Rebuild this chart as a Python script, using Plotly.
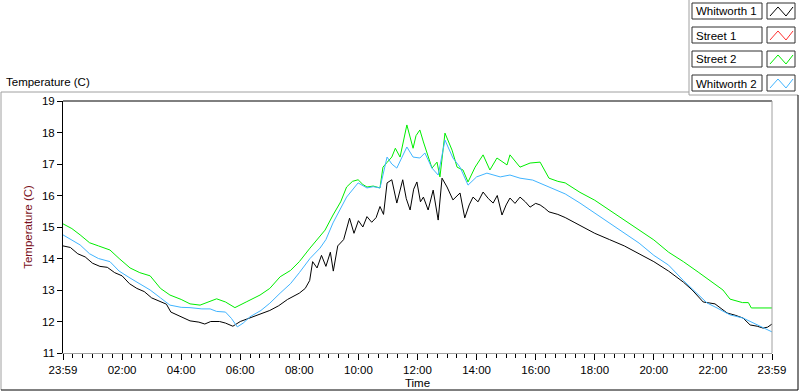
import plotly.graph_objects as go

# ---------------- data (hours after 23:59, temperature in C) ----------------
series_names = ["Whitworth 1", "Street 1", "Street 2", "Whitworth 2"]
series_colors = ["#000000", "#ff3030", "#00ee00", "#40b4ff"]

w1_hours = [0.0, 0.25, 0.5, 0.75, 1.0, 1.25, 1.5, 1.75, 2.0, 2.25, 2.5, 2.75, 3.0, 3.25, 3.5, 3.65,
            4.0, 4.3, 4.6, 4.8, 5.0, 5.3, 5.5, 5.75, 6.0, 6.3, 6.6, 7.0, 7.3, 7.6, 8.0, 8.2, 8.35,
            8.45, 8.6, 8.75, 8.9, 9.05, 9.15, 9.3, 9.5, 9.7, 9.85, 10.0, 10.15, 10.29, 10.45, 10.6,
            10.73, 10.85, 10.97, 11.13, 11.3, 11.5, 11.62, 11.75, 11.87, 11.98, 12.1, 12.2, 12.36,
            12.53, 12.7, 12.83, 13.0, 13.2, 13.44, 13.6, 13.75, 13.88, 14.05, 14.22, 14.4, 14.56,
            14.7, 14.86, 15.0, 15.13, 15.3, 15.47, 15.65, 15.81, 16.0, 16.15, 16.3, 16.45, 16.75,
            17.0, 17.3, 17.5, 17.75, 18.0, 18.5, 19.0, 19.5, 20.0, 20.5, 21.0, 21.3, 21.67, 22.07,
            22.48, 22.75, 23.02, 23.26, 23.5, 23.7, 23.85, 24.0]
w1_temps = [14.40, 14.35, 14.15, 14.05, 13.85, 13.75, 13.72, 13.55, 13.45, 13.2, 13.05, 12.95, 12.75,
            12.65, 12.55, 12.3, 12.15, 12.02, 11.98, 11.92, 12.0, 12.0, 11.95, 11.85, 12.0, 12.1, 12.2,
            12.35, 12.5, 12.7, 12.9, 13.05, 13.3, 13.9, 13.7, 14.1, 13.75, 14.2, 13.6, 14.4, 14.6,
            15.28, 14.8, 15.2, 15.0, 15.33, 15.15, 15.3, 15.65, 15.4, 16.4, 16.5, 15.76, 16.5, 15.9,
            15.54, 16.2, 16.43, 15.8, 15.95, 15.54, 16.17, 15.22, 16.55, 16.27, 15.86, 16.08, 15.29,
            15.7, 15.95, 15.8, 16.11, 15.9, 15.76, 16.0, 15.38, 15.7, 15.92, 15.75, 15.95, 15.8, 15.63,
            15.75, 15.7, 15.6, 15.48, 15.4, 15.3, 15.15, 15.05, 14.9, 14.8, 14.6, 14.4, 14.15, 13.9,
            13.6, 13.25, 13.0, 12.62, 12.56, 12.27, 12.2, 12.11, 11.89, 11.85, 11.79, 11.82, 11.92]

s1_hours = []
s1_temps = []

s2_hours = [0.0, 0.3, 0.58, 0.9, 1.2, 1.59, 1.9, 2.27, 2.6, 2.95, 3.3, 3.62, 4.0, 4.3, 4.64, 4.9, 5.2,
            5.5, 5.82, 6.2, 6.67, 7.0, 7.35, 7.7, 8.0, 8.36, 8.6, 8.87, 9.14, 9.4, 9.6, 9.8, 9.99,
            10.15, 10.29, 10.5, 10.73, 10.83, 10.97, 11.13, 11.25, 11.41, 11.64, 11.75, 11.85, 11.95,
            12.08, 12.2, 12.32, 12.49, 12.66, 12.76, 12.93, 13.05, 13.17, 13.34, 13.54, 13.71, 13.95,
            14.22, 14.45, 14.69, 15.03, 15.13, 15.47, 15.81, 16.15, 16.45, 16.75, 17.0, 17.5, 18.0,
            18.5, 19.0, 19.5, 20.0, 20.5, 21.0, 21.5, 22.0, 22.34, 22.58, 23.0, 23.2, 23.3, 24.0]
s2_temps = [15.1, 14.95, 14.75, 14.5, 14.4, 14.27, 14.0, 13.7, 13.55, 13.45, 13.05, 12.84, 12.7, 12.56,
            12.52, 12.62, 12.72, 12.62, 12.44, 12.62, 12.84, 13.05, 13.42, 13.62, 13.9, 14.33, 14.6,
            14.9, 15.38, 15.8, 16.27, 16.45, 16.5, 16.35, 16.27, 16.3, 16.24, 16.9, 17.05, 17.22, 17.5,
            17.22, 18.24, 17.8, 17.5, 17.9, 18.08, 17.7, 17.35, 16.87, 17.06, 16.59, 17.98, 17.7, 17.44,
            16.9, 16.81, 16.43, 16.9, 17.29, 16.81, 17.19, 16.97, 17.29, 16.9, 17.03, 17.06, 16.55,
            16.45, 16.4, 16.1, 15.85, 15.54, 15.22, 14.9, 14.59, 14.2, 13.9, 13.57, 13.22, 13.0, 12.71,
            12.6, 12.6, 12.43, 12.43]

w2_hours = [0.0, 0.25, 0.58, 0.9, 1.2, 1.59, 1.9, 2.27, 2.6, 2.95, 3.3, 3.62, 4.0, 4.3, 4.7, 4.98, 5.2,
            5.5, 5.7, 5.9, 6.1, 6.33, 6.7, 7.0, 7.35, 7.7, 8.0, 8.36, 8.7, 8.9, 9.14, 9.4, 9.6, 9.99,
            10.29, 10.5, 10.73, 10.97, 11.13, 11.3, 11.64, 11.85, 12.08, 12.25, 12.49, 12.7, 12.93,
            13.2, 13.44, 13.71, 14.0, 14.35, 14.8, 15.13, 15.47, 15.9, 16.45, 17.0, 17.5, 18.0, 18.5,
            19.0, 19.5, 20.0, 20.5, 21.0, 21.33, 21.8, 22.14, 22.58, 23.02, 23.5, 24.0]
w2_temps = [14.75, 14.6, 14.43, 14.15, 14.0, 13.9, 13.6, 13.38, 13.2, 13.0, 12.75, 12.52, 12.45, 12.44,
            12.4, 12.4, 12.32, 12.3, 12.1, 11.83, 11.95, 12.15, 12.35, 12.58, 12.9, 13.2, 13.55, 14.0,
            14.33, 14.6, 15.13, 15.6, 15.95, 16.4, 16.24, 16.28, 16.24, 17.22, 17.0, 16.87, 17.54,
            17.22, 17.19, 17.35, 16.87, 16.65, 17.76, 17.19, 16.9, 16.33, 16.59, 16.71, 16.59, 16.65,
            16.55, 16.49, 16.27, 16.05, 15.76, 15.44, 15.13, 14.8, 14.49, 14.1, 13.79, 13.3, 13.0,
            12.59, 12.43, 12.21, 12.11, 11.89, 11.67]

x_tick_vals = [0, 2, 4, 6, 8, 10, 12, 14, 16, 18, 20, 22, 24]
x_tick_text = ["23:59", "02:00", "04:00", "06:00", "08:00", "10:00", "12:00",
               "14:00", "16:00", "18:00", "20:00", "22:00", "23:59"]

# ---------------- figure ----------------
W, H = 800, 392
L, R, T, B = 63, 772, 101, 353
FONT = "Liberation Sans"
FS = 11.5


def px(x):
    return (x - L) / (R - L)


def py(y):
    return (B - y) / (B - T)


fig = go.Figure()
all_hours = [w1_hours, s1_hours, s2_hours, w2_hours]
all_temps = [w1_temps, s1_temps, s2_temps, w2_temps]
for name, color, hrs, tmp in zip(series_names, series_colors, all_hours, all_temps):
    fig.add_trace(go.Scatter(x=hrs, y=tmp, mode="lines", name=name,
                             line=dict(color=color, width=1), showlegend=False))

shapes = []
grey = "#a0a0a0"


def seg(x0, y0, x1, y1, color, width=1):
    shapes.append(dict(type="line", xref="paper", yref="paper",
                       x0=px(x0), y0=py(y0), x1=px(x1), y1=py(y1),
                       line=dict(color=color, width=width), layer="above"))


# plot frame (top black, right grey)
seg(L, T, R, T, "#000000")
seg(R, T, R, B, grey)
# outer panel
seg(1, 92, 689, 92, grey)
seg(1, 92, 1, 390, grey)
seg(689, 0, 689, 95, grey)
seg(689, 95, 798, 95, grey)
seg(798, 95, 798, 390, "#000000")
seg(1, 390, 798, 390, "#000000")

annotations = []
# legend (LabVIEW style)
for i, (name, color) in enumerate(zip(series_names, series_colors)):
    top = 3 + 24 * i
    bot = top + 16
    shapes.append(dict(type="rect", xref="paper", yref="paper",
                       x0=px(692), x1=px(762), y0=py(bot), y1=py(top),
                       line=dict(color="#303030", width=1), fillcolor="white"))
    shapes.append(dict(type="rect", xref="paper", yref="paper",
                       x0=px(767), x1=px(795), y0=py(bot), y1=py(top),
                       line=dict(color="#303030", width=1), fillcolor="white"))
    pts = [(770, bot - 3), (778, top + 4), (786, bot - 3), (793, top + 4)]
    path = "M " + " L ".join(f"{px(a):.5f},{py(b):.5f}" for a, b in pts)
    shapes.append(dict(type="path", xref="paper", yref="paper", path=path,
                       line=dict(color=color, width=1)))
    annotations.append(dict(text=name, xref="paper", yref="paper", x=px(694), y=py(top + 8.5),
                            xanchor="left", yanchor="middle", showarrow=False,
                            font=dict(family=FONT, size=FS, color="#000000")))

annotations.append(dict(text="Temperature (C)", xref="paper", yref="paper", x=px(4), y=py(82),
                        xanchor="left", yanchor="middle", showarrow=False,
                        font=dict(family=FONT, size=FS, color="#000000")))

fig.update_layout(
    width=W, height=H,
    margin=dict(l=L, r=W - R, t=T, b=H - B, pad=0, autoexpand=False),
    paper_bgcolor="white", plot_bgcolor="white",
    font=dict(family=FONT, size=FS, color="#000000"),
    shapes=shapes, annotations=annotations,
    xaxis=dict(range=[0, 24], tickmode="array", tickvals=x_tick_vals, ticktext=x_tick_text,
               ticks="outside", ticklen=6, tickcolor="#000000", tickwidth=1, automargin=False,
               showline=True, linecolor=grey, linewidth=1, showgrid=False, zeroline=False,
               minor=dict(tick0=0, dtick=1 / 3, ticks="outside", ticklen=4,
                          tickcolor="#000000", showgrid=False),
               title=dict(text="Time", standoff=4, font=dict(family=FONT, size=FS, color="#000000"))),
    yaxis=dict(range=[11, 19], dtick=1, ticks="outside", ticklen=5, tickcolor="#000000",
               showline=True, linecolor="#000000", linewidth=1, showgrid=False, zeroline=False,
               automargin=False,
               title=dict(text="Temperature (C)", standoff=6,
                          font=dict(family=FONT, size=FS, color="#7a1020"))),
)

fig.write_html("out.html", config={"displayModeBar": False},
               post_script="document.body.style.margin='0';document.body.style.overflow='hidden';")
